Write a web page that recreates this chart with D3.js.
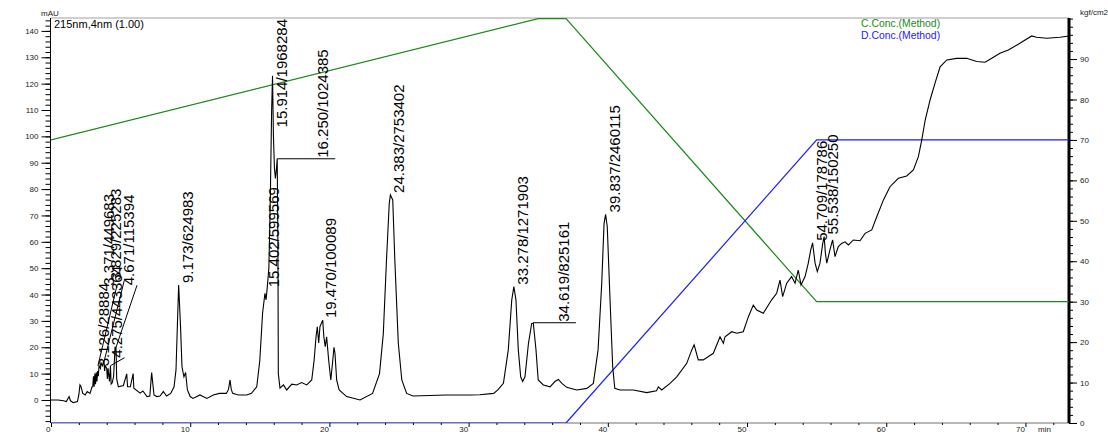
<!DOCTYPE html>
<html><head><meta charset="utf-8">
<script src="https://cdn.jsdelivr.net/npm/d3@7"></script>
<style>
body{margin:0;background:#fff}
svg{display:block;font-family:"Liberation Sans",Arial,sans-serif}
</style>
</head><body>
<svg id="c" width="1108" height="434"></svg>
<script>
// ---- chromatogram trace (min, mAU) ----
const times=[0,0.5,0.9,1.1,1.3,1.4,1.6,1.9,2.0,2.08,2.16,2.28,2.46,2.6,2.8,2.95,3.0,3.05,3.1,3.15,3.2,3.25,3.3,3.35,3.4,3.45,3.55,3.6,3.7,3.8,3.85,3.9,4.0,4.05,4.1,4.2,4.27,4.32,4.4,4.5,4.6,4.67,4.72,4.84,5.2,5.44,5.5,5.7,5.9,5.95,6.4,6.6,6.9,7.1,7.23,7.4,7.6,7.83,8.07,8.3,8.6,8.84,8.98,9.08,9.17,9.3,9.41,9.55,9.67,9.8,10.0,10.2,10.7,11.2,11.66,12.1,12.6,12.75,12.86,12.95,13.05,13.46,14.06,14.4,14.78,15.0,15.2,15.37,15.45,15.54,15.65,15.75,15.85,15.914,15.98,16.05,16.12,16.2,16.25,16.3,16.33,16.45,16.7,16.93,17.3,17.65,18.0,18.37,18.73,18.9,19.04,19.13,19.23,19.32,19.52,19.6,19.7,19.8,19.95,20.1,20.24,20.33,20.4,20.52,20.7,21.24,22.2,23.1,23.6,23.87,24.1,24.3,24.38,24.55,24.7,24.95,25.2,25.55,26.0,28.4,30.1,30.8,31.8,32.1,32.5,32.85,33.1,33.25,33.4,33.57,33.74,33.88,34.05,34.3,34.53,34.65,34.84,35.0,35.37,35.85,36.2,36.45,36.7,37.05,37.76,38.5,38.96,39.3,39.56,39.73,39.84,39.96,40.16,40.35,40.5,40.87,41.83,42.8,43.5,43.63,43.87,44.47,44.95,45.67,46.03,46.2,46.5,46.86,47.58,48.06,48.3,48.42,48.9,49.26,49.73,50.1,50.45,50.7,51.17,51.77,52.13,52.37,52.56,52.85,53.2,53.45,53.68,53.88,54.17,54.4,54.58,54.71,54.89,55.05,55.24,55.44,55.54,55.63,55.73,55.96,56.15,56.32,56.56,56.8,57.04,57.28,57.64,58.12,58.48,58.96,59.32,59.8,60.27,60.87,61.47,61.95,62.31,62.55,62.8,63.15,63.5,63.87,64.35,65.06,65.78,66.5,67.1,67.58,68.17,68.77,69.6,70.45,70.8,71.53,72.48,73.13];
const mAU=[0,0,-0.3,-0.6,1.3,-0.3,-1,-0.6,2,5.7,5,2.5,1.9,3.2,2.5,5,5,9,5,10,6,10.5,7,11,9,13,12,14,13,15,11,13,12,8,12,7,13,6,6.5,9,20,20,8,5,5.5,9.9,5,5,10,4.5,2.6,3.4,1.3,1.5,10.4,1.9,1.3,1.5,3.2,1.5,2.5,5,11.4,28.5,43.6,28.5,12.6,8.8,10.4,3.8,1.3,0.6,1.9,0.6,1.9,2.5,2.5,4,7.6,4,2.5,1.9,1.9,2.5,5,15,33,40.5,38,43,50,75,110,123,100,88,84,88,91.5,60,10,4.5,5.7,3.8,6,5.7,6.6,5.7,7.6,15,24,27.8,21.6,27.8,30.3,24,20.2,24,15,7.6,15,20,17.7,7.6,3.8,1.3,0,2.5,10,25,53,74.6,77.8,75.9,53,21.5,7.6,2.5,1.5,1.9,1.9,2.0,2.5,3.8,6.3,19,38,43,38,19,8.8,7,8.8,21.5,29,29,19,7.6,5.7,5,7,7.8,6.3,4.8,3.8,4.4,6.3,19,44,67,70.4,65.7,38,12.6,4.4,3.8,3.8,2.8,3.5,5,3.8,6.3,8.8,13.9,19,20.9,15.2,15.2,17.7,24,21.5,24,25.9,25.3,25.9,31.6,36,34.1,32.9,38,40.5,45.5,39.2,44.3,46.8,44.3,49.3,43.6,46.8,51.9,57,59.6,51.9,48.7,51.9,59.4,62,55.7,51.9,57,60.7,54.4,58.2,59.4,60,58.8,60.7,60.4,63.2,64.5,69.5,75.9,80.9,84.1,85,87.3,92.3,98.6,106.2,113.8,120.1,126.4,129,129.6,129.6,128.4,128.1,129.6,131.5,132.8,135.3,138.1,137.6,137.2,137.6,138.1];

// ---- gradient programs (min, %) ----
const cTimes=[0,35,37,55,73.13];
const cConc=[70,100,100,30,30];
const dTimes=[0,37,55,73.13];
const dConc=[0,0,70,70];

// ---- peak labels ----
const peakRT=[3.126,3.371,3.829,4.275,4.671,9.173,15.402,15.914,16.250,19.470,24.383,33.278,34.619,39.837,54.709,55.538];
const peakArea=[28884,449683,225283,443364,115394,624983,599569,1968284,1024385,100089,2753402,1271903,825161,2460115,178786,150250];
const peakTop=[12,13,15,13,20,43.6,42,123,91.5,30.3,77.8,43,29.3,70.4,59.6,62];

// ---- axis ticks ----
const leftTicks=[0,10,20,30,40,50,60,70,80,90,100,110,120,130,140];
const rightTicks=[0,10,20,30,40,50,60,70,80,90];
const timeTicks=[0,10,20,30,40,50,60,70];

// layout: slanted leaders [dx,dy] to label anchor, horizontal leaders [length]
const slant={3.371:[16,-80],3.829:[17,-80],4.275:[11,-8],4.671:[18,-62]};
const flat={16.250:58,34.619:43};

const svg=d3.select('#c');
const L=51,R=1069,T=18,B=423;
const x=d3.scaleLinear().domain([0,73.13]).range([L,R]);
const yL=d3.scaleLinear().domain([-8.73,144.9]).range([B,T]);
const yR=d3.scaleLinear().domain([0,100.15]).range([B,T]);

svg.append('defs').append('clipPath').attr('id','clip').append('rect')
  .attr('x',L).attr('y',T-1).attr('width',R-L).attr('height',B-T+1);

// frame lines
svg.append('line').attr('x1',L).attr('x2',R).attr('y1',T).attr('y2',T).attr('stroke','#a0a0a0').attr('stroke-width',1.2);
svg.append('line').attr('x1',L).attr('x2',R).attr('y1',B).attr('y2',B).attr('stroke','#a0a0a0').attr('stroke-width',1.5);

// left axis
const gl=svg.append('g').attr('transform',`translate(${L-0.5},0)`);
gl.call(d3.axisLeft(yL).tickValues(d3.range(-8,145,2)).tickSize(5).tickFormat(''));
gl.call(g=>g.select('.domain').remove());
const gl2=svg.append('g').attr('transform',`translate(${L-0.5},0)`);
gl2.call(d3.axisLeft(yL).tickValues(leftTicks).tickSize(9).tickPadding(3).tickFormat(d3.format('d')));
gl2.select('.domain').attr('d',`M0,${T}V${B}`);
svg.selectAll('g text').attr('font-size',8).attr('fill','#222');
svg.append('text').attr('x',41).attr('y',16).attr('font-size',8).attr('fill','#222').text('mAU');

// bottom axis
const gb=svg.append('g').attr('transform',`translate(0,${B})`);
gb.call(d3.axisBottom(x).tickValues(d3.range(2,73,2).filter(v=>v%10)).tickSize(2).tickFormat(''));
gb.select('.domain').remove();
const gb2=svg.append('g').attr('transform',`translate(0,${B})`);
gb2.call(d3.axisBottom(x).tickValues(timeTicks).tickSize(4).tickPadding(2).tickFormat(d3.format('d')));
gb2.select('.domain').remove();
gb2.selectAll('text').attr('text-anchor','end').attr('x',-1).attr('y',3).attr('font-size',8).attr('fill','#222');
svg.append('text').attr('x',1038).attr('y',431.5).attr('font-size',8).attr('fill','#222').text('min');

// right axis
const gr=svg.append('g').attr('transform',`translate(${R},0)`);
gr.call(d3.axisRight(yR).tickValues(d3.range(0,101,2)).tickSize(4).tickFormat(''));
gr.select('.domain').remove();
const gr2=svg.append('g').attr('transform',`translate(${R},0)`);
gr2.call(d3.axisRight(yR).tickValues(rightTicks).tickSize(8).tickPadding(3).tickFormat(d3.format('d')));
gr2.select('.domain').attr('d',`M0,${T}V${B}`).attr('stroke-width',3);
gr2.selectAll('text').attr('font-size',8).attr('fill','#222');
svg.append('text').attr('x',1080).attr('y',15).attr('font-size',8).attr('fill','#222').text('kgf/cm2');

// gradient lines
const plot=svg.append('g').attr('clip-path','url(#clip)');
const lineR=d3.line().x(d=>x(d[0])).y(d=>yR(d[1]));
plot.append('path').attr('d',lineR(cTimes.map((t,i)=>[t,cConc[i]]))).attr('fill','none').attr('stroke','#1a8a1a').attr('stroke-width',1.2);
plot.append('path').attr('d',lineR(dTimes.map((t,i)=>[t,dConc[i]]))).attr('fill','none').attr('stroke','#1a1aff').attr('stroke-width',1.2);

// trace
const lineL=d3.line().x(d=>x(d[0])).y(d=>yL(d[1]));
plot.append('path').attr('d',lineL(times.map((t,i)=>[t,mAU[i]]))).attr('fill','none').attr('stroke','#000').attr('stroke-width',1.1);

// peak labels
const lab=svg.append('g');
peakRT.forEach((rt,i)=>{
  const ax=x(rt), ay=yL(peakTop[i]);
  const str=rt.toFixed(3)+'/'+peakArea[i];
  let tx=ax+14, ty=ay-2;
  if(slant[rt]){
    tx=ax+slant[rt][0]; ty=ay+slant[rt][1];
    lab.append('line').attr('x1',ax).attr('y1',ay).attr('x2',tx+3).attr('y2',ty).attr('stroke','#000').attr('stroke-width',1);
  } else if(flat[rt]){
    lab.append('line').attr('x1',ax).attr('x2',ax+flat[rt]).attr('y1',ay).attr('y2',ay).attr('stroke','#000').attr('stroke-width',1);
    tx=ax+flat[rt]-7; ty=ay-1;
  }
  const t=lab.append('text').attr('font-size',15).attr('fill','#000').text(str);
  const len=t.node().getComputedTextLength();
  if(ty-len<T+1) ty=T+1+len;
  t.attr('transform',`translate(${tx},${ty}) rotate(-90)`);
});

// title & legend
svg.append('text').attr('x',54).attr('y',28).attr('font-size',11).attr('fill','#000').text('215nm,4nm (1.00)');
svg.append('text').attr('x',861).attr('y',27).attr('font-size',10.4).attr('fill','#1a8a1a').text('C.Conc.(Method)');
svg.append('text').attr('x',861).attr('y',39).attr('font-size',10.4).attr('fill','#1a1aff').text('D.Conc.(Method)');
</script>
</body></html>
